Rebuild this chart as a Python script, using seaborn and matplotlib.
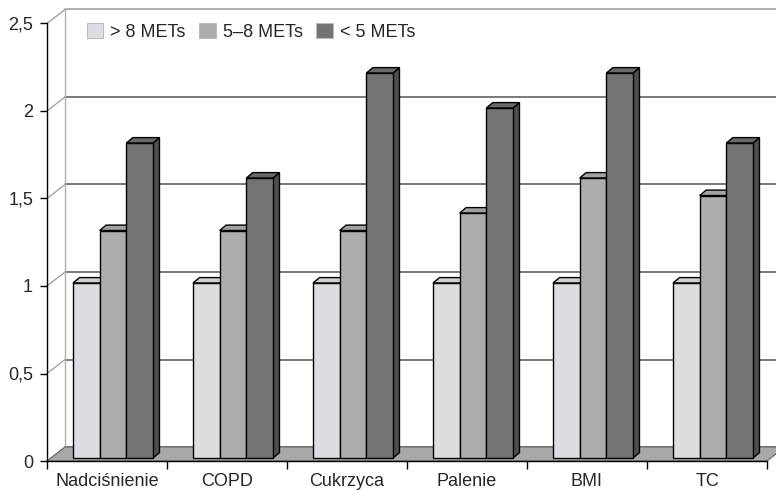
import numpy as np
import pandas as pd
import matplotlib
matplotlib.use("Agg")
import matplotlib.pyplot as plt
import seaborn as sns
from matplotlib.patches import Polygon, Patch

# data
categories = ["Nadciśnienie", "COPD", "Cukrzyca", "Palenie", "BMI", "TC"]
groups = ["> 8 METs", "5–8 METs", "< 5 METs"]
high_mets = [1.0, 1.0, 1.0, 1.0, 1.0, 1.0]
mid_mets = [1.3, 1.3, 1.3, 1.4, 1.6, 1.5]
low_mets = [1.8, 1.6, 2.2, 2.0, 2.2, 1.8]
y_ticks = [0, 0.5, 1, 1.5, 2, 2.5]
y_tick_labels = ["0", "0,5", "1", "1,5", "2", "2,5"]

front_colors = ["#dcdde0", "#adadad", "#737373"]
top_colors = ["#cfd0d3", "#a2a2a2", "#696969"]
side_colors = ["#b5b6b9", "#8a8a8a", "#4e4e4e"]

df = pd.DataFrame({
    "cat": categories * 3,
    "grp": [groups[0]] * 6 + [groups[1]] * 6 + [groups[2]] * 6,
    "val": high_mets + mid_mets + low_mets,
})

sns.set_theme(style="white")
plt.rcParams["font.family"] = ["Liberation Sans", "DejaVu Sans"]
FS = 13

fig = plt.figure(figsize=(7.76, 4.9), dpi=100)
ax = fig.add_axes([47 / 776, 29 / 490, 720 / 776, 437.5 / 490])

sns.barplot(data=df, x="cat", y="val", hue="grp", palette=front_colors,
            width=2 / 3, gap=0, edgecolor="black", linewidth=1.0,
            legend=False, saturation=1, ax=ax)
ax.set_xlim(-0.5, 5.5)
ax.set_ylim(0, 2.5)

# pseudo 3-D geometry (data units)
back_dx, back_dy = 0.15, 0.08
bar_dx, bar_dy = 0.054, 0.031
shift_x, shift_y = 0.05, 0.017

# back wall + gridlines
x_back_left = -0.5 + back_dx
for v in y_ticks:
    col = "#9a9a9a" if v == 2.5 else "#555555"
    ax.plot([x_back_left, 6.0], [v + back_dy, v + back_dy], color=col,
            lw=1.1, clip_on=False, zorder=0.5)
    ax.plot([-0.5, x_back_left], [v, v + back_dy], color="#9a9a9a",
            lw=0.9, clip_on=False, zorder=0.5)
ax.plot([x_back_left, x_back_left], [back_dy, 2.5 + back_dy],
        color="#b0b0b0", lw=1.0, clip_on=False, zorder=0.5)

# floor
floor = Polygon([(-0.5, 0), (5.5, 0), (5.5 + back_dx, back_dy),
                 (x_back_left, back_dy)], closed=True, facecolor="#a8a8a8",
                edgecolor="#6a6a6a", lw=0.8, clip_on=False, zorder=1)
ax.add_patch(floor)

# extrude bars
for i, cont in enumerate(ax.containers):
    for p in cont.patches:
        p.set_x(p.get_x() + shift_x)
        p.set_y(shift_y)
        p.set_zorder(3 + i)
        p.set_clip_on(False)
        x0 = p.get_x()
        x1 = x0 + p.get_width()
        y0 = shift_y
        y1 = y0 + p.get_height()
        side = Polygon([(x1, y0), (x1, y1), (x1 + bar_dx, y1 + bar_dy),
                        (x1 + bar_dx, y0 + bar_dy)], closed=True,
                       facecolor=side_colors[i], edgecolor="black", lw=1.0,
                       zorder=2.9 + i, clip_on=False)
        top = Polygon([(x0, y1), (x1, y1), (x1 + bar_dx, y1 + bar_dy),
                       (x0 + bar_dx, y1 + bar_dy)], closed=True,
                      facecolor=top_colors[i], edgecolor="black", lw=1.0,
                      zorder=2.9 + i, clip_on=False)
        ax.add_patch(side)
        ax.add_patch(top)

# axes styling
for s in ["top", "right"]:
    ax.spines[s].set_visible(False)
for s in ["left", "bottom"]:
    ax.spines[s].set_color("black")
    ax.spines[s].set_linewidth(1.0)
    ax.spines[s].set_zorder(10)

ax.set_yticks(y_ticks)
ax.set_yticklabels(y_tick_labels, fontsize=FS)
ax.tick_params(axis="y", direction="out", length=5, width=1, color="black",
               pad=5, left=True)
ax.set_xticks(range(len(categories)))
ax.set_xticklabels(categories, fontsize=FS)
ax.set_xticks(np.arange(-0.5, 6.0, 1.0), minor=True)
ax.tick_params(axis="x", which="major", length=0, pad=8.5)
ax.tick_params(axis="x", which="minor", direction="out", length=5.5,
               width=1, color="black", bottom=True)
ax.set_xlabel("")
ax.set_ylabel("")
ax.grid(False)

handles = [Patch(facecolor=c, edgecolor="#bbbbbb", lw=0.8) for c in front_colors]
fig.legend(handles, groups, loc="center left", bbox_to_anchor=(87 / 776, 1 - 32 / 490),
           ncol=3, frameon=False, fontsize=FS, handlelength=0.9, handleheight=0.9,
           handletextpad=0.4, columnspacing=0.75, borderaxespad=0, borderpad=0)

fig.savefig("out.png", dpi=100)
